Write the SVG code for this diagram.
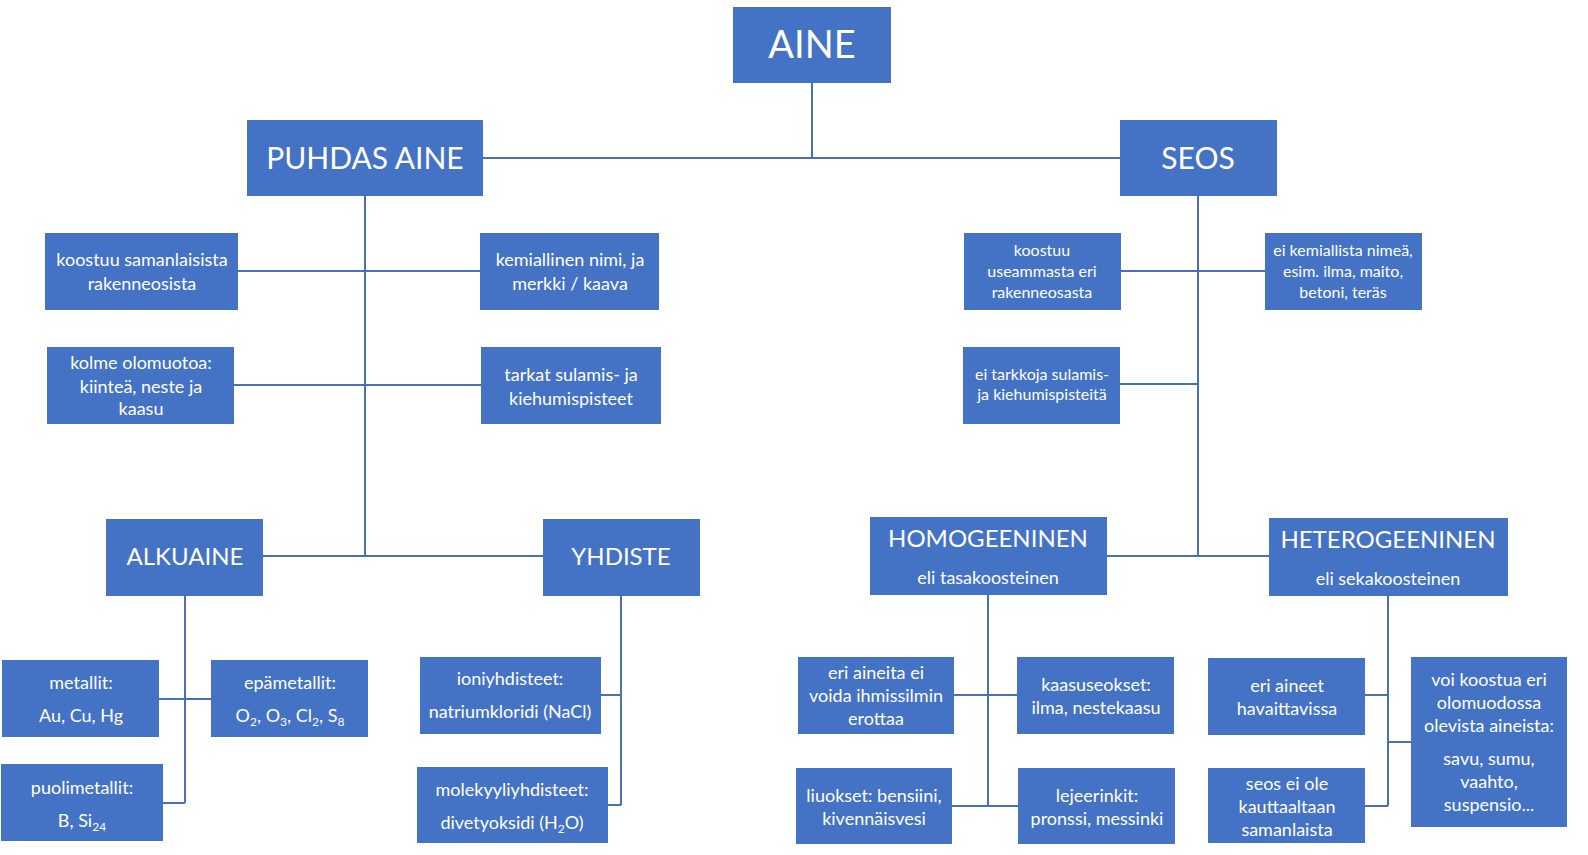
<svg xmlns="http://www.w3.org/2000/svg" width="1588" height="855" viewBox="0 0 1588 855">
<style>
rect{fill:#4472C4}
text{fill:#fff;font-family:Lato,"Open Sans","Liberation Sans",sans-serif;text-anchor:middle;font-size:18px}
.t{font-size:30px}.h{font-size:24px}.s{font-size:16px}.sub{font-size:12px}
#conn path{stroke:#4A70B8;stroke-width:2;fill:none}
</style>
<rect width="1588" height="855" style="fill:#fff"/>
<g id="conn">
<path d="M812 83V158M483 158H1120M365 196V556M238 271H480M234 385H481M263 556H543"/>
<path d="M185 596V803M159 699H211M163 803H185M621 596V805M601 695H621M608 805H621"/>
<path d="M1198 196V556M1121 271H1265M1120 384H1198M1107 556H1269"/>
<path d="M988 595V806M954 695H1017M952 806H1018M1388 596V806M1365 695H1388M1365 806H1388M1388 742H1411"/>
</g>
<g id="aine"><rect x="733" y="7" width="158" height="76"/><text x="812" y="58" style="font-size:38px">AINE</text></g>
<g id="puhdas"><rect x="247" y="120" width="236" height="76"/><text class="t" x="365" y="169">PUHDAS AINE</text></g>
<g id="seos"><rect x="1120" y="120" width="157" height="76"/><text class="t" x="1198" y="169">SEOS</text></g>
<g id="n1"><rect x="45" y="233" width="193" height="77"/><text x="142" y="266">koostuu samanlaisista</text><text x="142" y="290">rakenneosista</text></g>
<g id="n2"><rect x="480" y="233" width="179" height="77"/><text x="570" y="266">kemiallinen nimi, ja</text><text x="570" y="290">merkki / kaava</text></g>
<g id="n3"><rect x="47" y="347" width="187" height="77"/><text x="141" y="369">kolme olomuotoa:</text><text x="141" y="393">kiinteä, neste ja</text><text x="141" y="415">kaasu</text></g>
<g id="n4"><rect x="481" y="347" width="180" height="77"/><text x="571" y="381">tarkat sulamis- ja</text><text x="571" y="405">kiehumispisteet</text></g>
<g id="alkuaine"><rect x="106" y="519" width="157" height="77"/><text class="h" x="185" y="565">ALKUAINE</text></g>
<g id="yhdiste"><rect x="543" y="519" width="157" height="77"/><text class="h" x="621" y="565">YHDISTE</text></g>
<g id="metallit"><rect x="2" y="660" width="157" height="77"/><text x="81" y="689">metallit:</text><text x="81" y="722">Au, Cu, Hg</text></g>
<g id="epametallit"><rect x="211" y="660" width="157" height="77"/><text x="290" y="689">epämetallit:</text><text x="290" y="722">O<tspan class="sub" dy="4">2</tspan><tspan dy="-4">, O</tspan><tspan class="sub" dy="4">3</tspan><tspan dy="-4">, Cl</tspan><tspan class="sub" dy="4">2</tspan><tspan dy="-4">, S</tspan><tspan class="sub" dy="4">8</tspan></text></g>
<g id="puolimetallit"><rect x="1" y="764" width="162" height="77"/><text x="82" y="794">puolimetallit:</text><text x="82" y="827">B, Si<tspan class="sub" dy="4">24</tspan></text></g>
<g id="ioni"><rect x="420" y="657" width="181" height="77"/><text x="510" y="685">ioniyhdisteet:</text><text x="510" y="718">natriumkloridi (NaCl)</text></g>
<g id="molek"><rect x="417" y="767" width="191" height="76"/><text x="512" y="796">molekyyliyhdisteet:</text><text x="512" y="829">divetyoksidi (H<tspan class="sub" dy="4">2</tspan><tspan dy="-4">O)</tspan></text></g>
<g id="r1"><rect x="964" y="233" width="157" height="77"/><text class="s" x="1042" y="256">koostuu</text><text class="s" x="1042" y="277">useammasta eri</text><text class="s" x="1042" y="298">rakenneosasta</text></g>
<g id="r2"><rect x="1265" y="233" width="157" height="77"/><text class="s" x="1343" y="256">ei kemiallista nimeä,</text><text class="s" x="1343" y="277">esim. ilma, maito,</text><text class="s" x="1343" y="298">betoni, teräs</text></g>
<g id="r3"><rect x="963" y="347" width="157" height="77"/><text class="s" x="1042" y="380">ei tarkkoja sulamis-</text><text class="s" x="1042" y="400">ja kiehumispisteitä</text></g>
<g id="homo"><rect x="870" y="517" width="237" height="78"/><text class="h" x="988" y="547">HOMOGEENINEN</text><text x="988" y="584">eli tasakoosteinen</text></g>
<g id="hetero"><rect x="1269" y="518" width="239" height="78"/><text class="h" x="1388" y="548">HETEROGEENINEN</text><text x="1388" y="585">eli sekakoosteinen</text></g>
<g id="h1"><rect x="798" y="657" width="156" height="77"/><text x="876" y="679">eri aineita ei</text><text x="876" y="702">voida ihmissilmin</text><text x="876" y="725">erottaa</text></g>
<g id="h2"><rect x="1017" y="657" width="157" height="77"/><text x="1096" y="691">kaasuseokset:</text><text x="1096" y="714">ilma, nestekaasu</text></g>
<g id="h3"><rect x="796" y="768" width="156" height="76"/><text x="874" y="802">liuokset: bensiini,</text><text x="874" y="825">kivennäisvesi</text></g>
<g id="h4"><rect x="1018" y="768" width="157" height="76"/><text x="1097" y="802">lejeerinkit:</text><text x="1097" y="825">pronssi, messinki</text></g>
<g id="e1"><rect x="1208" y="658" width="157" height="77"/><text x="1287" y="692">eri aineet</text><text x="1287" y="715">havaittavissa</text></g>
<g id="e2"><rect x="1208" y="768" width="157" height="75"/><text x="1287" y="790">seos ei ole</text><text x="1287" y="813">kauttaaltaan</text><text x="1287" y="836">samanlaista</text></g>
<g id="e3"><rect x="1411" y="657" width="156" height="170"/><text x="1489" y="686">voi koostua eri</text><text x="1489" y="709">olomuodossa</text><text x="1489" y="732">olevista aineista:</text><text x="1489" y="765">savu, sumu,</text><text x="1489" y="788">vaahto,</text><text x="1489" y="811">suspensio...</text></g>
</svg>
